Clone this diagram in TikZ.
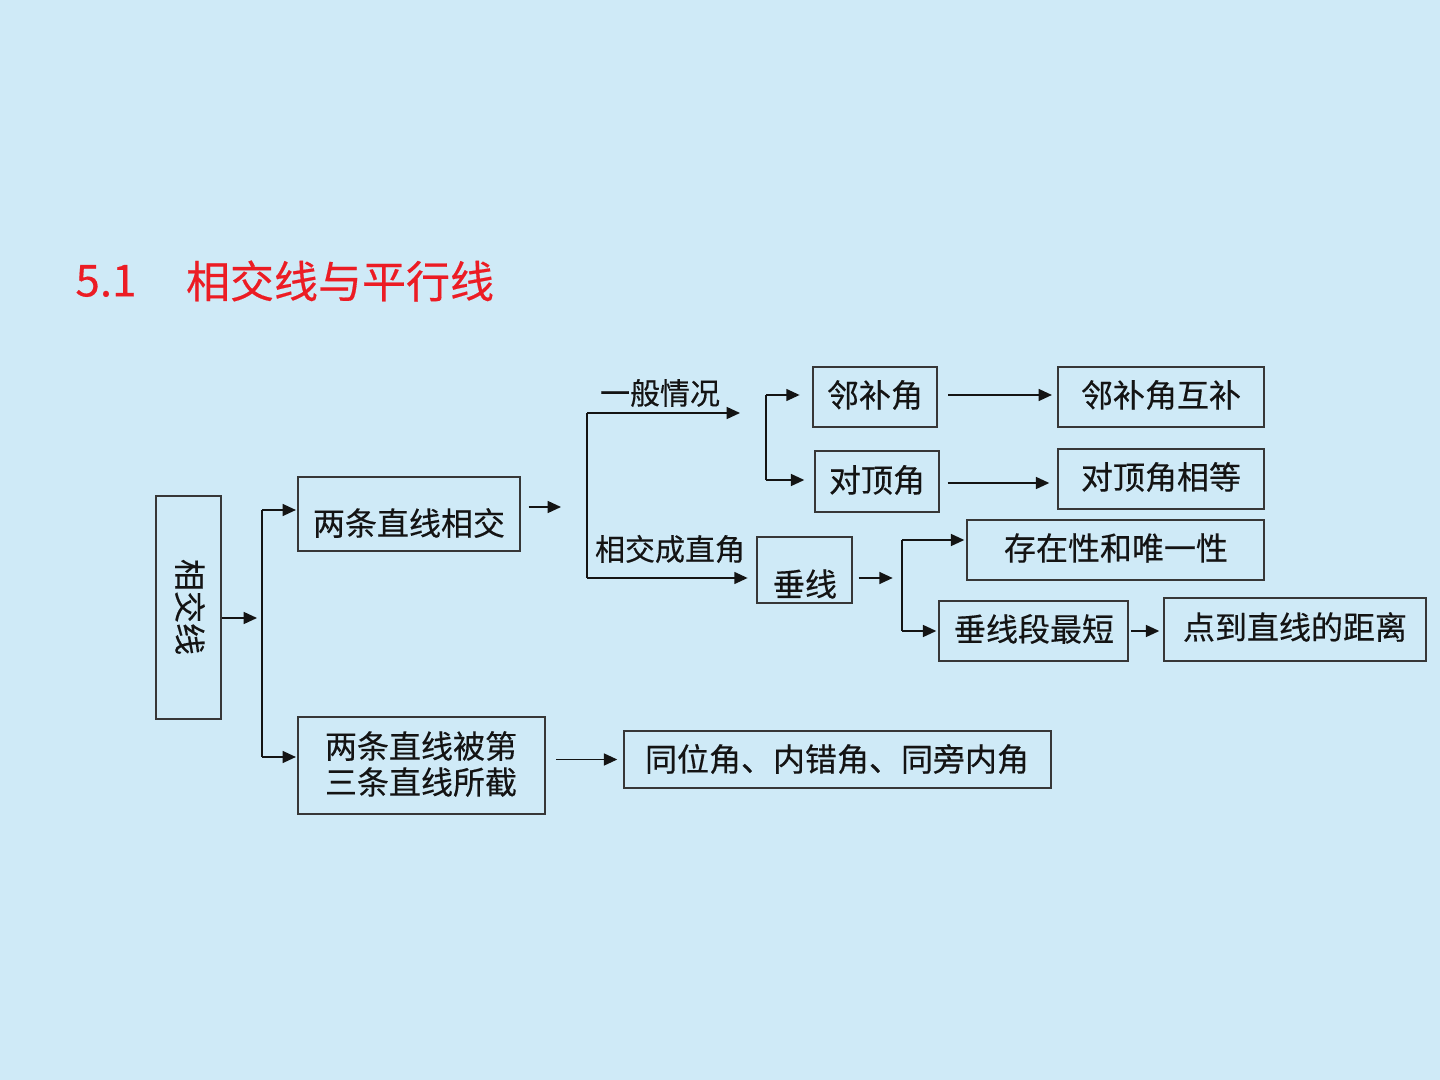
\documentclass[tikz,border=0pt]{standalone}
\usepackage{fontspec}
\setmainfont{Noto Sans CJK SC}[FakeBold=0.35]
\usetikzlibrary{arrows.meta,fit}
\definecolor{bg}{RGB}{207,234,247}
\definecolor{ttl}{RGB}{236,28,36}
\definecolor{ink}{RGB}{20,20,20}
\begin{document}
\begin{tikzpicture}[x=0.75pt,y=-0.75pt,
  box/.style={draw=ink!85,line width=1.1pt,inner sep=0pt},
  txt/.style={text=ink,font=\fontsize{24}{29}\selectfont,inner sep=0pt,align=center},
  lbl/.style={text=ink,font=\fontsize{22.5}{27}\selectfont,inner sep=0pt},
  arr/.style={draw=ink,line width=1.1pt,-{Triangle[length=10pt,width=9pt]}},
  ln/.style={draw=ink,line width=1.1pt}]
\fill[bg] (0,0) rectangle (1440,1080);
\useasboundingbox (0,0) rectangle (1440,1080);
% title
\node[text=ttl,font=\fontsize{33}{38}\selectfont,inner sep=0pt] (t1) at (106,281) {5.1};
\node[text=ttl,font=\fontsize{33}{38}\selectfont,inner sep=0pt] (t2) at (340,281) {相交线与平行线};
% boxes
\node[box,fit={(156,496) (221,719)}] (xjx) {};
\node[box,fit={(298,477) (520,551)}] (lxj) {};
\node[box,fit={(298,717) (545,814)}] (lxb) {};
\node[box,fit={(813,367) (937,427)}] (lbj) {};
\node[box,fit={(815,451) (939,512)}] (dd) {};
\node[box,fit={(1058,367) (1264,427)}] (lbjhb) {};
\node[box,fit={(1058,449) (1264,509)}] (ddxd) {};
\node[box,fit={(757,537) (852,603)}] (cx) {};
\node[box,fit={(967,520) (1264,580)}] (czx) {};
\node[box,fit={(939,601) (1128,661)}] (cxd) {};
\node[box,fit={(1164,598) (1426,661)}] (djl) {};
\node[box,fit={(624,731) (1051,788)}] (twj) {};
% texts
\node[txt,rotate=-90] (xjxt) at (190,607) {相交线};
\node[txt] (lxjt) at (409,523) {两条直线相交};
\node[txt] (lxbt) at (421,764) {两条直线被第\\[-2pt]三条直线所截};
\node[txt] (lbjt) at (875,395) {邻补角};
\node[txt] (ddt) at (877,480) {对顶角};
\node[txt] (lbjhbt) at (1161,395) {邻补角互补};
\node[txt] (ddxdt) at (1161,477) {对顶角相等};
\node[txt] (cxt) at (805,584) {垂线};
\node[txt] (czxt) at (1116,548) {存在性和唯一性};
\node[txt] (cxdt) at (1034,629) {垂线段最短};
\node[txt] (djlt) at (1295,627) {点到直线的距离};
\node[txt] (twjt) at (837,759) {同位角、内错角、同旁内角};
\node[lbl] (ybqk) at (660,393) {一般情况};
\node[lbl] (xjczj) at (670,549) {相交成直角};
% branch coordinates
\coordinate (c1m) at (262,618);
\coordinate (c1t) at (262,510);
\coordinate (c1b) at (262,757);
\coordinate (a2e) at (561,507);
\coordinate (c2t) at (587,413);
\coordinate (c2b) at (587,578);
\coordinate (a3e) at (740,413);
\coordinate (c3t) at (766,395);
\coordinate (c3b) at (766,480);
\coordinate (c4m) at (902,578);
\coordinate (c4t) at (902,540);
\coordinate (c4b) at (902,631);
% connectors
\draw[arr,shorten >=5pt*0.75] (xjx.east |- c1m) -- (c1m);
\draw[ln] (c1t) -- (c1b);
\draw[arr,shorten >=1pt] (c1t) -- (c1t -| lxj.west);
\draw[arr,shorten >=1pt] (c1b) -- (c1b -| lxb.west);
\draw[arr,shorten <=6pt] (lxj.east |- a2e) -- (a2e);
\draw[ln] (c2t) -- (c2b);
\draw[arr] (c2t) -- (a3e);
\draw[arr,shorten >=6.5pt] (c2b) -- (c2b -| cx.west);
\draw[ln] (c3t) -- (c3b);
\draw[arr,shorten >=9.5pt] (c3t) -- (c3t -| lbj.west);
\draw[arr,shorten >=7.5pt] (c3b) -- (c3b -| dd.west);
\draw[arr,shorten <=8pt,shorten >=4pt] (lbj.east |- c3t) -- (c3t -| lbjhb.west);
\draw[arr,shorten <=6pt,shorten >=6pt] (dd.east |- 0,483) -- (lbjhb.west |- 0,483);
\draw[arr,shorten <=4.5pt,shorten >=7pt] (cx.east |- c4m) -- (c4m);
\draw[ln] (c4t) -- (c4b);
\draw[arr,shorten >=1.5pt] (c4t) -- (c4t -| czx.west);
\draw[arr,shorten >=1.5pt] (c4b) -- (c4b -| cxd.west);
\draw[arr,shorten <=2pt,shorten >=3pt] (cxd.east |- c4b) -- (c4b -| djl.west);
\draw[arr,shorten <=8pt,shorten >=4.5pt] (lxb.east |- twj.west) -- (twj.west);
\end{tikzpicture}
\end{document}
